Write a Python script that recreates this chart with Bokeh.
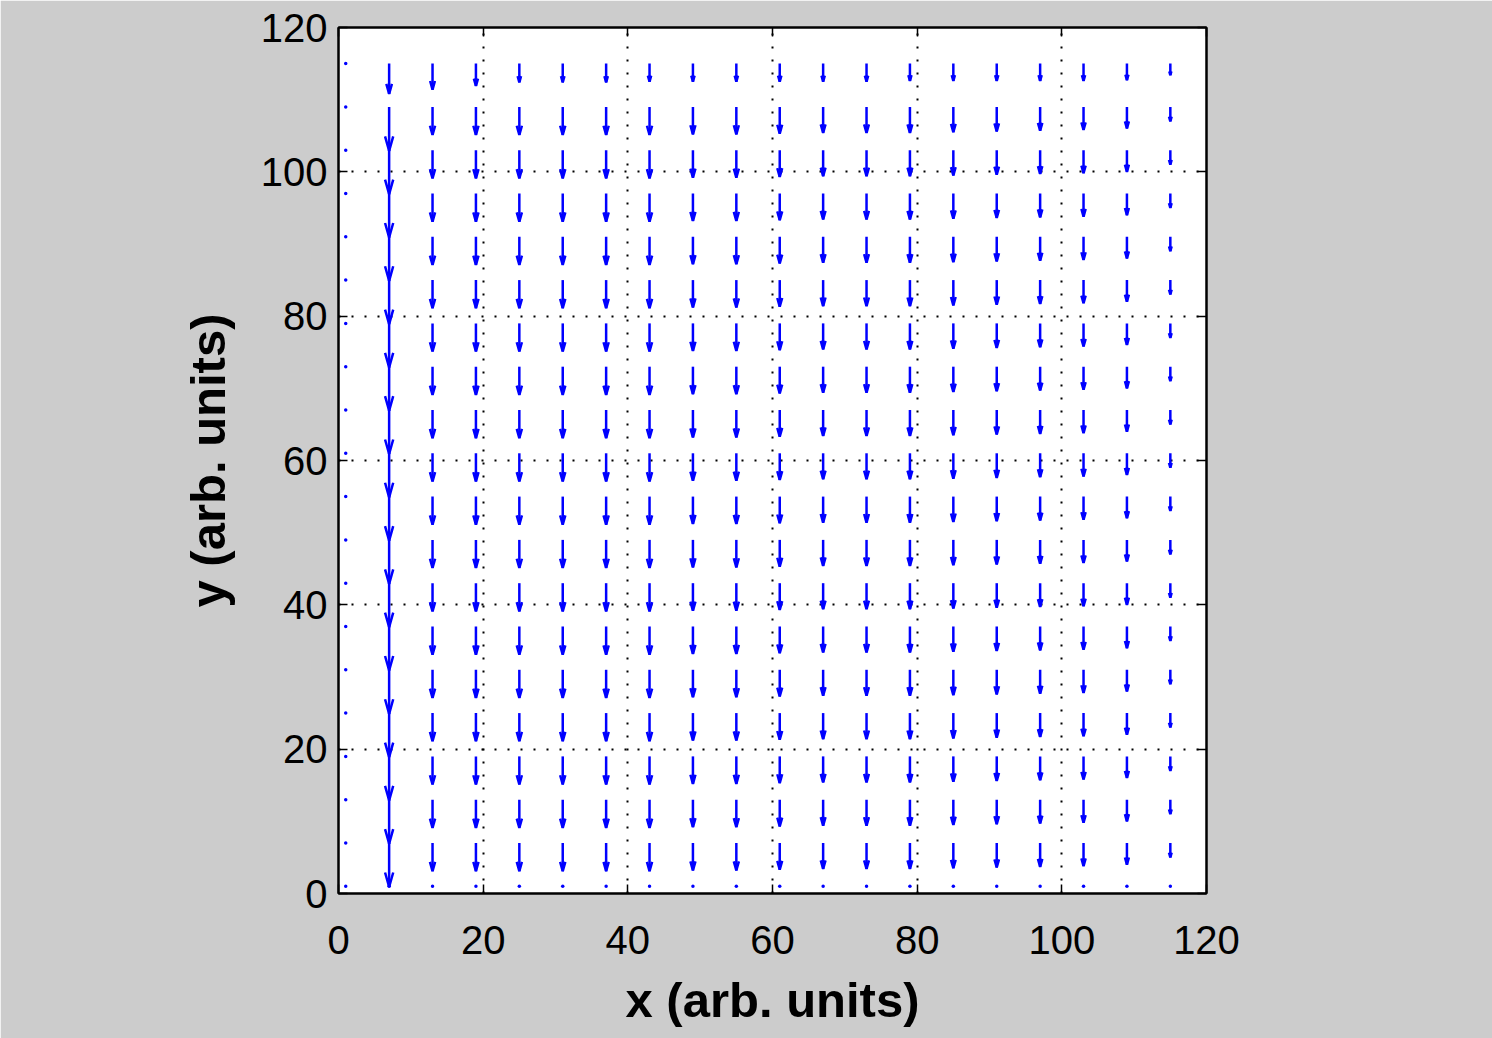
import numpy as np
from bokeh.plotting import figure
from bokeh.models import LinearAxis, FixedTicker, Range1d
from bokeh.embed import file_html
from bokeh.resources import INLINE

# grid of arrow tails (arb. units)
x_grid = [1, 7, 13, 19, 25, 31, 37, 43, 49, 55, 61, 67, 73, 79, 85, 91, 97, 103, 109, 115]
y_grid = [1, 7, 13, 19, 25, 31, 37, 43, 49, 55, 61, 67, 73, 79, 85, 91, 97, 103, 109, 115]

# vertical components per column (displayed length, negative = downward)
v_top_row = [0, -4.2, -3.6, -3.1, -2.6, -2.6, -2.6, -2.5, -2.5, -2.5,
             -2.5, -2.5, -2.5, -2.4, -2.4, -2.4, -2.4, -2.4, -2.3, -1.6]
v_interior = [0, -6.1, -3.9, -3.9, -3.9, -3.9, -3.9, -3.9, -3.8, -3.8,
              -3.7, -3.6, -3.6, -3.6, -3.5, -3.4, -3.3, -3.2, -3.0, -2.0]
v_bottom_row = [0] * 20
u_all = 0.0

ticks = [0, 20, 40, 60, 80, 100, 120]

BLUE = "#0000ff"
FONT = "Liberation Sans"

p = figure(frame_width=868, frame_height=866,
           min_border_left=338, min_border_right=286,
           min_border_top=27, min_border_bottom=145,
           x_range=Range1d(0, 120), y_range=Range1d(0, 120),
           output_backend="svg", toolbar_location=None,
           background_fill_color="white", border_fill_color="#cccccc",
           outline_line_color="black", outline_line_width=2)

# build quiver geometry (MATLAB-style arrowheads)
alpha, beta = 0.33, 0.28
sx0, sy0, sx1, sy1 = [], [], [], []
hx, hy = [], []
zx, zy = [], []
for yv in y_grid:
    if yv == y_grid[0]:
        vrow = v_bottom_row
    elif yv == y_grid[-1]:
        vrow = v_top_row
    else:
        vrow = v_interior
    for xv, vv in zip(x_grid, vrow):
        uu = u_all
        if vv == 0 and uu == 0:
            zx.append(xv); zy.append(yv)
            continue
        tx, ty = xv + uu, yv + vv
        sx0.append(xv); sy0.append(yv); sx1.append(tx); sy1.append(ty)
        hx.append([tx - alpha * (uu + beta * vv), tx, tx - alpha * (uu - beta * vv)])
        hy.append([ty - alpha * (vv - beta * uu), ty, ty - alpha * (vv + beta * uu)])

p.segment(x0=sx0, y0=sy0, x1=sx1, y1=sy1, line_color=BLUE, line_width=2.5)
p.multi_line(xs=hx, ys=hy, line_color=BLUE, line_width=2.5)
p.scatter(x=zx, y=zy, size=3.5, marker="circle", fill_color=BLUE, line_color=None)

# axes styling
for ax in (p.xaxis[0], p.yaxis[0]):
    ax.ticker = FixedTicker(ticks=ticks)
    ax.major_tick_in = 9
    ax.major_tick_out = 0
    ax.minor_tick_line_color = None
    ax.axis_line_color = "black"
    ax.axis_line_width = 2
    ax.major_tick_line_width = 1.5
    ax.major_label_text_font = FONT
    ax.major_label_text_font_size = "40px"
    ax.major_label_text_color = "black"
    ax.axis_label_text_font = FONT
    ax.axis_label_text_font_size = "49px"
    ax.axis_label_text_font_style = "bold"
    ax.axis_label_text_color = "black"

p.xaxis.axis_label = "x (arb. units)"
p.yaxis.axis_label = "y (arb. units)"
p.xaxis.major_label_standoff = 32
p.xaxis.axis_label_standoff = 16
p.yaxis.major_label_standoff = 11
p.yaxis.axis_label_standoff = 23

for loc in ("above", "right"):
    ax = LinearAxis(ticker=FixedTicker(ticks=ticks),
                    major_label_overrides={t: "" for t in ticks})
    ax.major_tick_in = 9
    ax.major_tick_out = 0
    ax.minor_tick_line_color = None
    ax.axis_line_color = "black"
    ax.axis_line_width = 2
    ax.major_tick_line_width = 1.5
    ax.major_label_standoff = 0
    p.add_layout(ax, loc)

# dotted grid
for g in (p.xgrid[0], p.ygrid[0]):
    g.ticker = FixedTicker(ticks=ticks)
    g.grid_line_color = "black"
    g.grid_line_dash = "2 11"
    g.grid_line_width = 2

open("out.html", "w").write(file_html(p, INLINE))
